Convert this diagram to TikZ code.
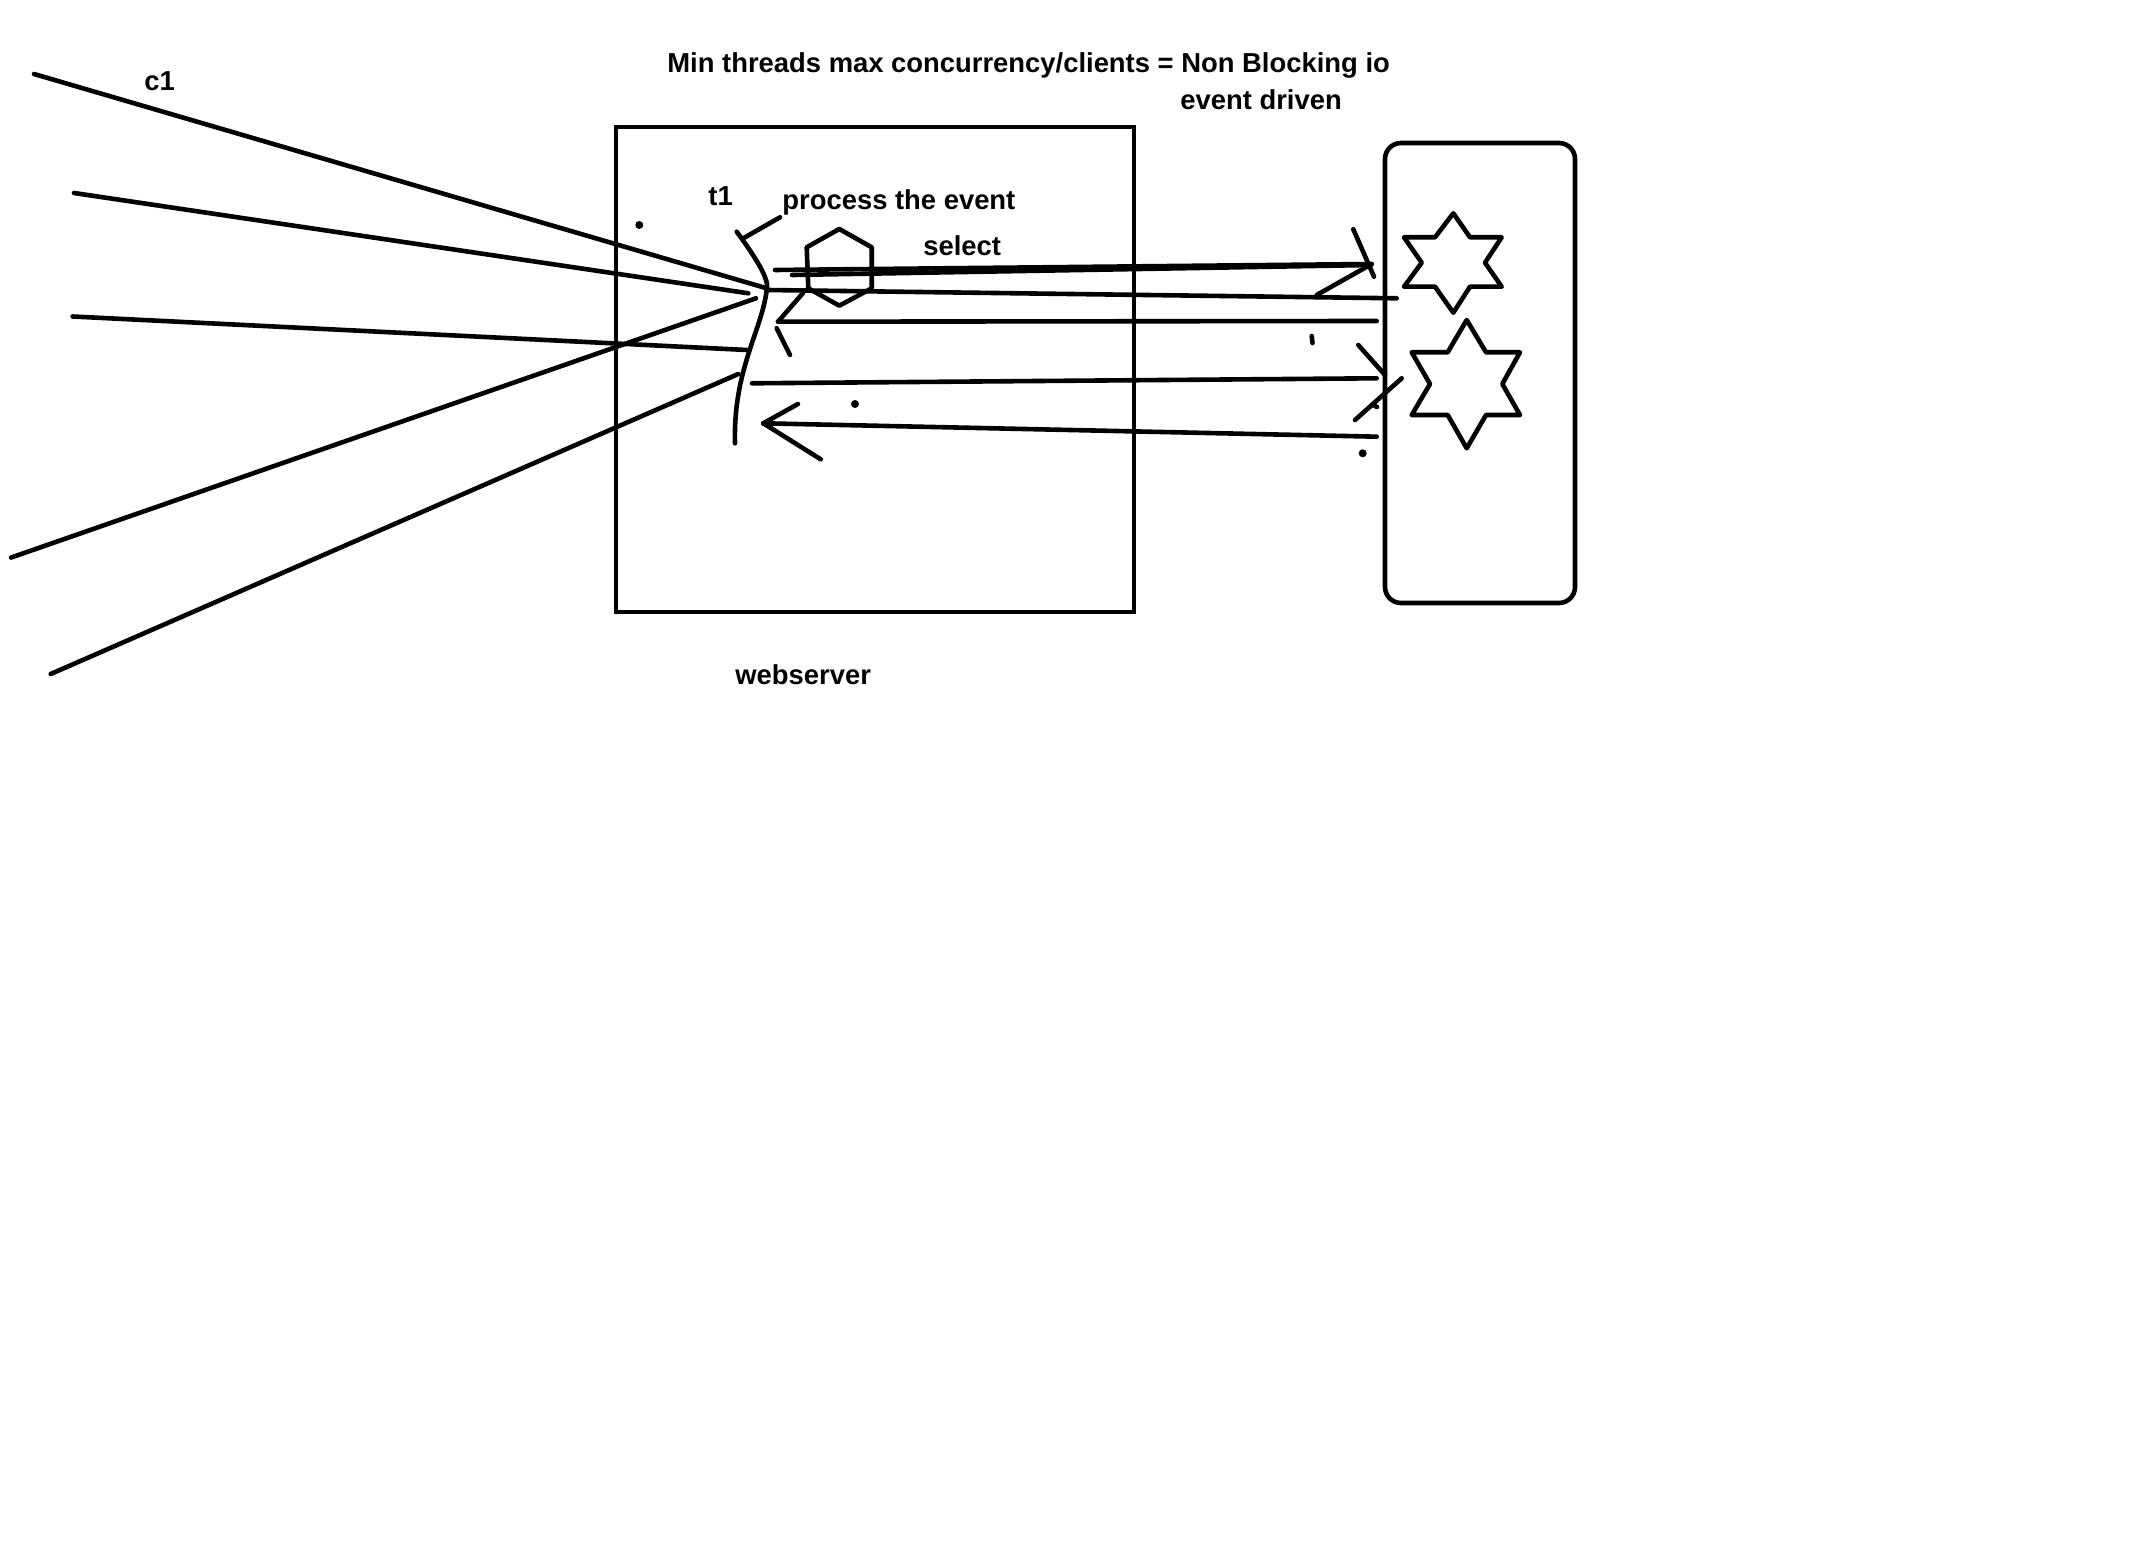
\documentclass[tikz,border=0pt]{standalone}
\usepackage{fontspec}
\setmainfont{Liberation Sans}
\begin{document}
\begin{tikzpicture}[x=0.5pt,y=-0.5pt,
  ln/.style={line width=2.3pt,line cap=round,line join=round},
  lbl/.style={anchor=base west,inner sep=0pt,font=\fontsize{13.7}{16}\selectfont\bfseries}]
\useasboundingbox[fill=white] (0,0) rectangle (2148,1550);
% texts
\node[lbl] (title) at (667,73) {Min threads max concurrency/clients = Non Blocking io};
\node[lbl] (evd) at (1180,110) {event driven};
\node[lbl] (c1) at (144,91) {c1};
\node[lbl] (t1) at (708,206) {t1};
\node[lbl] (proc) at (782,210) {process the event};
\node[lbl] (sel) at (923,256) {select};
\node[lbl] (web) at (735,685) {webserver};
% webserver box
\node[draw,line width=2.3pt,minimum width=259pt,minimum height=242.5pt,inner sep=0pt] (ws) at (875,369.5) {};
% rounded box
\node[draw,line width=2.3pt,rounded corners=8pt,minimum width=95pt,minimum height=230pt,inner sep=0pt] (db) at (1480,373) {};
% stars
\draw[ln] (1453.3,213.3) -- (1470,237.3) -- (1501.7,237.3) -- (1485,262.7) -- (1501.7,286.7) -- (1470,286.7)
  -- (1453.3,312.7) -- (1435,286.7) -- (1404,286.7) -- (1421.7,262.7) -- (1404,237.3) -- (1435,237.3) -- cycle;
\draw[ln] (1466.7,320) -- (1486,352.3) -- (1520,352.3) -- (1502.3,384) -- (1520,415) -- (1486,415)
  -- (1466.7,448.3) -- (1447.7,415) -- (1411.7,415) -- (1430,384) -- (1411.7,352.3) -- (1447.7,352.3) -- cycle;
% hexagon
\draw[ln] (839.3,229) -- (871.7,247.3) -- (871.7,288.3) -- (839.3,305.7) -- (808.3,288.3) -- (806.7,247.3) -- cycle;
% thread curve
\coordinate (th1) at (736.7,231.7);
\coordinate (th2) at (766.7,290);
\coordinate (th3) at (735,443.3);
\draw[ln] (th1) .. controls (756,258) and (770,280) .. (th2) .. controls (762,330) and (733,370) .. (th3);
\draw[ln] (743.3,238.3) -- (780,217.3);
% client lines
\coordinate (a0) at (34,74);   \coordinate (a1) at (766.7,288.3);
\coordinate (b0) at (74,193);  \coordinate (b1) at (748.3,293.3);
\coordinate (cc0) at (11,557.6); \coordinate (cc1) at (756,298.3);
\coordinate (d0) at (72.6,316.5); \coordinate (d1) at (746.7,350);
\coordinate (e0) at (50.7,674); \coordinate (e1) at (738.3,374);
\draw[ln] (a0) -- (a1);
\draw[ln] (b0) -- (b1);
\draw[ln] (cc0) -- (cc1);
\draw[ln] (d0) -- (d1);
\draw[ln] (e0) -- (e1);
% select arrow (thick)
\coordinate (s0) at (775,270); \coordinate (s1) at (1371.7,264);
\draw[ln] (s0) -- (s1);
\draw[ln] (792,275) -- (1371,265);
\draw[ln] (1353.3,229.3) -- (1374,276.7);
\draw[ln] (s1) -- (1316.7,295);
% line 2
\draw[ln] (th2) -- (1396.7,298.3);
% line 3 with left arrow
\coordinate (l3a) at (778,321.7); \coordinate (l3b) at (1376.7,321);
\draw[ln] (l3a) -- (l3b);
\draw[ln] (l3a) -- (803,293);
\draw[ln] (776.7,328.3) -- (790,355);
% line 4 right arrow
\coordinate (l4a) at (752,383.3); \coordinate (l4b) at (1376.7,378.3);
\draw[ln] (l4a) -- (l4b);
\draw[ln] (1358.3,345) -- (1385,375);
\draw[ln] (1401.7,378.3) -- (1355,420);
% line 5 left arrow
\coordinate (l5a) at (763.3,423.3); \coordinate (l5b) at (1376.7,436.7);
\draw[ln] (l5a) -- (l5b);
\draw[ln] (l5a) -- (798,404);
\draw[ln] (l5a) -- (820.7,459.3);
% stray marks
\fill (639.3,225) circle (2pt);
\fill (855,404) circle (2pt);
\fill (1362.7,453.3) circle (2pt);
\draw[ln] (1311.7,336) -- (1312.5,343);
\draw[ln] (1373,405) -- (1377,407);
\end{tikzpicture}
\end{document}
